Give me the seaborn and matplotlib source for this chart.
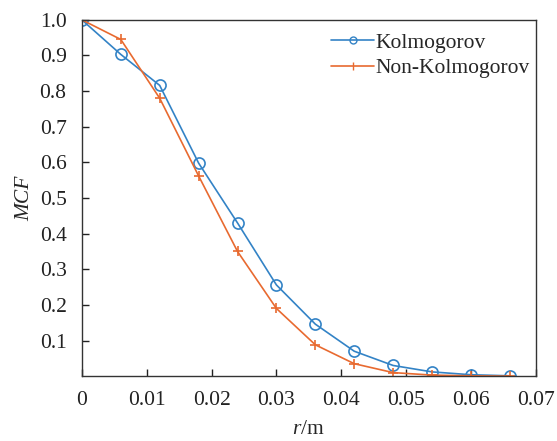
import matplotlib
matplotlib.use("Agg")
import matplotlib.pyplot as plt
from matplotlib.lines import Line2D
import seaborn as sns
import pandas as pd

r = [0, 0.006, 0.012, 0.018, 0.024, 0.030, 0.036, 0.042, 0.048, 0.054, 0.060, 0.066]
mcf_kolmogorov = [1.0, 0.903, 0.816, 0.598, 0.430, 0.256, 0.146, 0.070, 0.030, 0.012, 0.004, 0.001]
mcf_non_kolmogorov = [1.0, 0.945, 0.780, 0.562, 0.350, 0.190, 0.088, 0.035, 0.010, 0.003, 0.001, 0.000]
x_ticks = [0, 0.01, 0.02, 0.03, 0.04, 0.05, 0.06, 0.07]
x_tick_labels = ["0", "0.01", "0.02", "0.03", "0.04", "0.05", "0.06", "0.07"]
y_ticks = [0.1, 0.2, 0.3, 0.4, 0.5, 0.6, 0.7, 0.8, 0.9, 1.0]

sns.set_style("ticks")
plt.rcParams["font.family"] = ["Liberation Serif", "DejaVu Serif"]
plt.rcParams["mathtext.fontset"] = "custom"
plt.rcParams["mathtext.it"] = "Liberation Serif:italic"
plt.rcParams["mathtext.rm"] = "Liberation Serif"

df_k = pd.DataFrame({"r": r, "MCF": mcf_kolmogorov})
df_n = pd.DataFrame({"r": r, "MCF": mcf_non_kolmogorov})

fig = plt.figure(figsize=(5.57, 4.41), dpi=100)
ax = fig.add_axes([0.147, 0.147, 0.815, 0.808])

blue = "#3383c6"
orange = "#e86a30"
sns.lineplot(data=df_k, x="r", y="MCF", color=blue, marker="o", markersize=8,
             markerfacecolor="none", markeredgecolor=blue, markeredgewidth=1.2,
             linewidth=1.2, ax=ax)
sns.lineplot(data=df_n, x="r", y="MCF", color=orange, marker="+", markersize=7,
             markeredgecolor=orange, markeredgewidth=1.2,
             linewidth=1.2, ax=ax)

ax.set_xlim(0, 0.07)
ax.set_ylim(0, 1.0)
ax.set_xticks(x_ticks)
ax.set_xticklabels(x_tick_labels)
ax.set_yticks(y_ticks)
ax.set_yticklabels([f"{v:.1f}" for v in y_ticks])
ax.tick_params(direction="in", length=5, width=1, labelsize=15.5, colors="#222222")
ax.tick_params(axis="x", pad=11)
ax.tick_params(axis="y", pad=11)
for s in ax.spines.values():
    s.set_linewidth(1.0)
    s.set_color("#333333")
    s.set_visible(True)
ax.set_xlabel(r"$r$/m", fontsize=15.5, labelpad=7)
ax.set_ylabel("MCF", fontsize=15.5, style="italic", labelpad=4)

handles = [
    Line2D([], [], color=blue, marker="o", markerfacecolor="none", markersize=5, linewidth=1.2),
    Line2D([], [], color=orange, marker="|", markersize=6, linewidth=1.2),
]
ax.legend(handles, ["Kolmogorov", "Non-Kolmogorov"], frameon=False, fontsize=15.5,
          loc="upper right", bbox_to_anchor=(1.015, 1.0), handlelength=2.0,
          handletextpad=0.05, labelspacing=0.25, borderaxespad=0.2)

fig.savefig("out.png", dpi=100)
